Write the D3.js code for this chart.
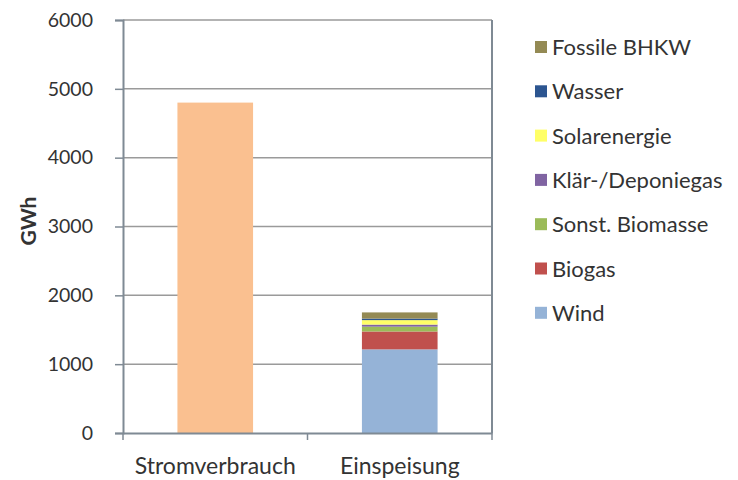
<!DOCTYPE html>
<html lang="de">
<head>
<meta charset="utf-8">
<title>Strom</title>
<script src="https://cdn.jsdelivr.net/npm/d3@7"></script>
<style>
  body { margin: 0; background: #fff; }
  text { font-family: Lato, "Open Sans", sans-serif; fill: #333; }
</style>
</head>
<body>
<script>
var width = 738, height = 480;

// data
var categories = ["Stromverbrauch", "Einspeisung"];
var verbrauch = [4800];
var sources = ["Wind", "Biogas", "Sonst. Biomasse", "Klär-/Deponiegas", "Solarenergie", "Wasser", "Fossile BHKW"];
var einspeisung = [1215, 260, 70, 30, 65, 22, 90];
var colors = ["#95b3d7", "#c0504d", "#9bbb59", "#8064a2", "#ffff66", "#2c5590", "#948a54"];
var yTicks = [0, 1000, 2000, 3000, 4000, 5000, 6000];

var margin = {left: 123, right: 246, top: 20, bottom: 47};

var svg = d3.select("body").append("svg")
  .attr("width", width).attr("height", height);

var x = d3.scaleBand().domain(categories)
  .range([margin.left, width - margin.right])
  .paddingInner(0.59).paddingOuter(0.295);

var y = d3.scaleLinear().domain([0, 6000])
  .range([height - margin.bottom, margin.top]);

// gridlines
svg.append("g").selectAll("line").data(yTicks.slice(1)).enter()
  .append("line")
  .attr("x1", margin.left).attr("x2", width - margin.right)
  .attr("y1", function(d){ return y(d); }).attr("y2", function(d){ return y(d); })
  .attr("stroke", "#9a9a9a").attr("stroke-width", 1.5);

// right border
svg.append("line")
  .attr("x1", width - margin.right).attr("x2", width - margin.right)
  .attr("y1", y(6000)).attr("y2", y(0))
  .attr("stroke", "#7f8a94").attr("stroke-width", 2);

// Stromverbrauch bar
svg.append("rect")
  .attr("x", x(categories[0])).attr("width", x.bandwidth())
  .attr("y", y(verbrauch[0])).attr("height", y(0) - y(verbrauch[0]))
  .attr("fill", "#fac090");

// stacked Einspeisung
var acc = 0;
var stacked = einspeisung.map(function(v, i){
  var s = {y0: acc, y1: acc + v, c: colors[i]};
  acc += v;
  return s;
});
svg.append("g").selectAll("rect").data(stacked).enter()
  .append("rect")
  .attr("x", x(categories[1])).attr("width", x.bandwidth())
  .attr("y", function(d){ return y(d.y1); })
  .attr("height", function(d){ return y(d.y0) - y(d.y1); })
  .attr("fill", function(d){ return d.c; });

// y axis
var yAxis = svg.append("g")
  .attr("transform", "translate(" + margin.left + ",0)")
  .call(d3.axisLeft(y).tickValues(yTicks).tickSize(8).tickPadding(22).tickFormat(d3.format("d")));
yAxis.select(".domain").attr("stroke", "#7f8a94").attr("stroke-width", 2);
yAxis.selectAll(".tick line").attr("stroke", "#7f8a94").attr("stroke-width", 1.5);
yAxis.selectAll("text").style("font-size", "19.5px").attr("fill", "#333");

// x axis
var xAxis = svg.append("g")
  .attr("transform", "translate(0," + y(0) + ")")
  .call(d3.axisBottom(x).tickSize(0).tickPadding(0));
xAxis.select(".domain").attr("stroke", "#7f8a94").attr("stroke-width", 2);
xAxis.selectAll("text").style("font-size", "23px").attr("fill", "#333")
  .attr("dy", null).attr("y", 41);
// category dividers
svg.append("g").selectAll("line")
  .data([margin.left, margin.left + (width - margin.right - margin.left) / 2, width - margin.right])
  .enter().append("line")
  .attr("x1", function(d){ return d; }).attr("x2", function(d){ return d; })
  .attr("y1", y(0)).attr("y2", y(0) + 7)
  .attr("stroke", "#7f8a94").attr("stroke-width", 1.5);

// y title
svg.append("text")
  .attr("transform", "translate(36,221) rotate(-90)")
  .attr("text-anchor", "middle")
  .style("font-size", "21px").style("font-weight", "bold")
  .text("GWh");

// legend (reverse order, top = Fossile BHKW)
var legend = svg.append("g").selectAll("g")
  .data(sources.slice().reverse()).enter()
  .append("g")
  .attr("transform", function(d, i){ return "translate(535," + (47 + i * 44.3) + ")"; });
legend.append("rect")
  .attr("x", 0).attr("y", -6).attr("width", 12).attr("height", 12)
  .attr("fill", function(d){ return colors[sources.indexOf(d)]; });
legend.append("text")
  .attr("x", 17).attr("y", 8)
  .style("font-size", "22px")
  .text(function(d){ return d; });
</script>
</body>
</html>
